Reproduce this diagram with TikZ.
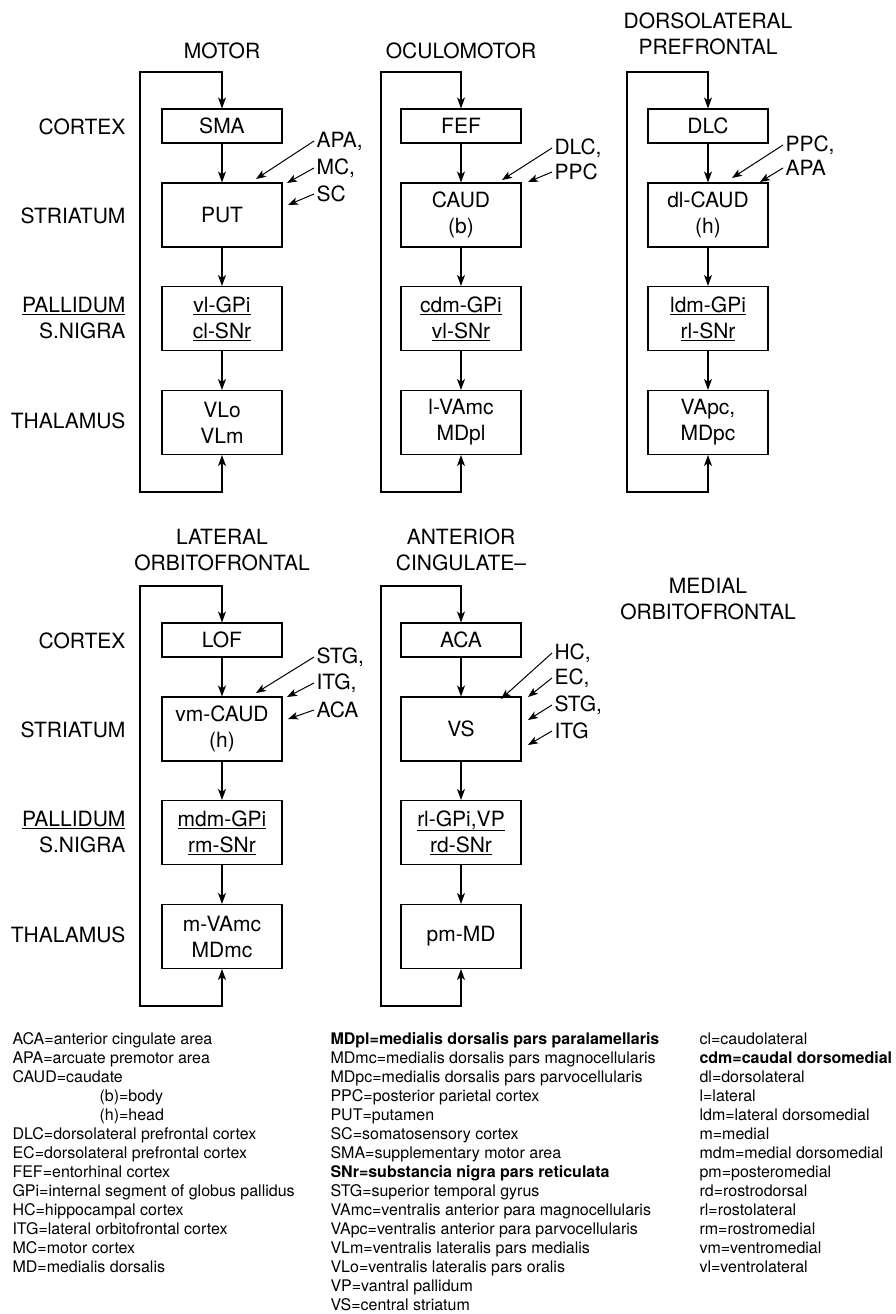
\documentclass[tikz,border=0pt]{standalone}
\usepackage{fontspec}
\setmainfont{TeX Gyre Heros}
\usetikzlibrary{arrows.meta}

\newcommand{\panelfont}{\fontsize{21}{26}\selectfont}
\newcommand{\keyfont}{\fontsize{16}{19}\selectfont}

\tikzset{
  >={Stealth[length=11pt, width=8pt, inset=3pt]},
  ctxbox/.style={shape=rectangle, draw=black, fill=white, minimum width=120pt,
    minimum height=34pt, inner sep=0pt, align=center, font=\panelfont},
  nucbox/.style={ctxbox, minimum height=64pt},
  rowlab/.style={anchor=east, align=right, inner sep=0pt, font=\panelfont},
  ttl/.style={align=center, inner sep=0pt, font=\panelfont},
  inlab/.style={anchor=west, inner sep=2pt, font=\panelfont},
  inarrow/.style={-{Stealth[length=10pt, width=7.5pt, inset=2.5pt]}, line width=1pt},
  keycol/.style={anchor=north west, align=left, inner sep=0pt, font=\keyfont},
}

\begin{document}
\begin{tikzpicture}[x=1pt, y=-1pt, line width=1.1pt]
\useasboundingbox (0,0) rectangle (895,1314);

              % row labels, top
\node[rowlab] at (126, 127) (lab-ctx1) {CORTEX};
\node[rowlab] at (126, 216) (lab-str1) {STRIATUM};
\node[rowlab] at (126, 318) (lab-pal1) {\underline{PALLIDUM}\\S.NIGRA};
\node[rowlab] at (126, 421) (lab-thl1) {THALAMUS};

              % Motor
\node[ttl] at (222, 51) (mot-ttl) {MOTOR};
\node[ctxbox] at (222, 126) (mot-ctx) {SMA};
\node[nucbox] at (222, 215) (mot-str) {PUT};
\node[nucbox] at (222, 318.5) (mot-pal) {\underline{vl-GPi}\\\underline{cl-SNr}};
\node[nucbox] at (222, 422.5) (mot-thl) {VLo\\VLm};
\coordinate (mot-tl) at (140, 72);
\coordinate (mot-bl) at (140, 492);

\draw[->]
  (mot-ctx) edge (mot-str)
  (mot-str) edge (mot-pal)
  (mot-pal) edge (mot-thl)
;
\draw[<->] (mot-ctx) -- (mot-ctx |- mot-tl) -- (mot-tl) -- (mot-bl)
  -- (mot-bl -| mot-thl) -- (mot-thl);

\node[inlab] at (314, 141) (mot-apa) {APA,};
\node[inlab] at (314, 168) (mot-mc) {MC,};
\node[inlab] at (314, 194) (mot-sc) {SC};
\coordinate (mot-t1) at (256, 179);
\coordinate (mot-t2) at (287, 183);
\coordinate (mot-t3) at (288, 205);
\draw[inarrow] (mot-apa.west) -- (mot-t1);
\draw[inarrow] (mot-mc.west)  -- (mot-t2);
\draw[inarrow] (mot-sc.west)  -- (mot-t3);

              % Oculomotor
\node[ttl] at (461, 51) (oc-ttl) {OCULOMOTOR};
\node[ctxbox] at (461, 126) (oc-ctx) {FEF};
\node[nucbox] at (461, 215) (oc-str) {CAUD\\(b)};
\node[nucbox] at (461, 318.5) (oc-pal) {\underline{cdm-GPi}\\\underline{vl-SNr}};
\node[nucbox] at (461, 422.5) (oc-thl) {l-VAmc\\MDpl};
\coordinate (oc-tl) at (381, 72);
\coordinate (oc-bl) at (381, 492);

\draw[->]
  (oc-ctx) edge (oc-str)
  (oc-str) edge (oc-pal)
  (oc-pal) edge (oc-thl)
;
\draw[<->] (oc-ctx) -- (oc-ctx |- oc-tl) -- (oc-tl) -- (oc-bl)
  -- (oc-bl -| oc-thl) -- (oc-thl);

\node[inlab] at (552, 148) (oc-dlc) {DLC,};
\node[inlab] at (552, 172) (oc-ppc) {PPC};
\coordinate (oc-t1) at (502, 180);
\coordinate (oc-t2) at (528, 182);
\draw[inarrow] (oc-dlc.west) -- (oc-t1);
\draw[inarrow] (oc-ppc.west) -- (oc-t2);

              % Dorsolateral prefrontal
\node[ttl] at (708, 34) (dl-ttl) {DORSOLATERAL\\PREFRONTAL};
\node[ctxbox] at (708, 126) (dl-ctx) {DLC};
\node[nucbox] at (708, 215) (dl-str) {dl-CAUD\\(h)};
\node[nucbox] at (708, 318.5) (dl-pal) {\underline{ldm-GPi}\\\underline{rl-SNr}};
\node[nucbox] at (708, 422.5) (dl-thl) {VApc,\\MDpc};
\coordinate (dl-tl) at (627, 72);
\coordinate (dl-bl) at (627, 492);

\draw[->]
  (dl-ctx) edge (dl-str)
  (dl-str) edge (dl-pal)
  (dl-pal) edge (dl-thl)
;
\draw[<->] (dl-ctx) -- (dl-ctx |- dl-tl) -- (dl-tl) -- (dl-bl)
  -- (dl-bl -| dl-thl) -- (dl-thl);

\node[inlab] at (783, 145) (dl-ppc) {PPC,};
\node[inlab] at (783, 168) (dl-apa) {APA};
\coordinate (dl-t1) at (732, 178);
\coordinate (dl-t2) at (760, 182);
\draw[inarrow] (dl-ppc.west) -- (dl-t1);
\draw[inarrow] (dl-apa.west) -- (dl-t2);

              % row labels, bottom
\node[rowlab] at (126, 641) (lab-ctx2) {CORTEX};
\node[rowlab] at (126, 730) (lab-str2) {STRIATUM};
\node[rowlab] at (126, 832) (lab-pal2) {\underline{PALLIDUM}\\S.NIGRA};
\node[rowlab] at (126, 935) (lab-thl2) {THALAMUS};

              % Lateral orbitofrontal
\node[ttl] at (222, 550) (lof-ttl) {LATERAL\\ORBITOFRONTAL};
\node[ctxbox] at (222, 640) (lof-ctx) {LOF};
\node[nucbox] at (222, 729) (lof-str) {vm-CAUD\\(h)};
\node[nucbox] at (222, 832.5) (lof-pal) {\underline{mdm-GPi}\\\underline{rm-SNr}};
\node[nucbox] at (222, 936.5) (lof-thl) {m-VAmc\\MDmc};
\coordinate (lof-tl) at (140, 586);
\coordinate (lof-bl) at (140, 1006);

\draw[->]
  (lof-ctx) edge (lof-str)
  (lof-str) edge (lof-pal)
  (lof-pal) edge (lof-thl)
;
\draw[<->] (lof-ctx) -- (lof-ctx |- lof-tl) -- (lof-tl) -- (lof-bl)
  -- (lof-bl -| lof-thl) -- (lof-thl);

\node[inlab] at (314, 657) (lof-stg) {STG,};
\node[inlab] at (314, 683) (lof-itg) {ITG,};
\node[inlab] at (314, 710) (lof-aca) {ACA};
\coordinate (lof-t1) at (256, 693);
\coordinate (lof-t2) at (287, 697);
\coordinate (lof-t3) at (288, 719);
\draw[inarrow] (lof-stg.west) -- (lof-t1);
\draw[inarrow] (lof-itg.west) -- (lof-t2);
\draw[inarrow] (lof-aca.west) -- (lof-t3);

              % Anterior cingulate
\node[ttl] at (461, 550) (acg-ttl) {ANTERIOR\\CINGULATE--};
\node[ctxbox] at (461, 640) (acg-ctx) {ACA};
\node[nucbox] at (461, 729) (acg-str) {VS};
\node[nucbox] at (461, 832.5) (acg-pal) {\underline{rl-GPi,VP}\\\underline{rd-SNr}};
\node[nucbox] at (461, 936.5) (acg-thl) {pm-MD};
\coordinate (acg-tl) at (381, 586);
\coordinate (acg-bl) at (381, 1006);

\draw[->]
  (acg-ctx) edge (acg-str)
  (acg-str) edge (acg-pal)
  (acg-pal) edge (acg-thl)
;
\draw[<->] (acg-ctx) -- (acg-ctx |- acg-tl) -- (acg-tl) -- (acg-bl)
  -- (acg-bl -| acg-thl) -- (acg-thl);

\node[inlab] at (552, 653) (acg-hc) {HC,};
\node[inlab] at (552, 678) (acg-ec) {EC,};
\node[inlab] at (552, 705) (acg-stg) {STG,};
\node[inlab] at (552, 731) (acg-itg) {ITG};
\coordinate (acg-t1) at (501, 699);
\coordinate (acg-t2) at (528, 697);
\coordinate (acg-t3) at (528, 720);
\coordinate (acg-t4) at (528, 745);
\draw[inarrow] (acg-hc.west)  -- (acg-t1);
\draw[inarrow] (acg-ec.west)  -- (acg-t2);
\draw[inarrow] (acg-stg.west) -- (acg-t3);
\draw[inarrow] (acg-itg.west) -- (acg-t4);

              % Medial orbitofrontal
\node[ttl] at (708, 599) (mof-ttl) {MEDIAL\\ORBITOFRONTAL};

              % key
\node[keycol] at (12, 1032) (key1) {ACA=anterior cingulate area\\
APA=arcuate premotor area\\
CAUD=caudate\\
\hspace*{87pt}(b)=body\\
\hspace*{87pt}(h)=head\\
DLC=dorsolateral prefrontal cortex\\
EC=dorsolateral prefrontal cortex\\
FEF=entorhinal cortex\\
GPi=internal segment of globus pallidus\\
HC=hippocampal cortex\\
ITG=lateral orbitofrontal cortex\\
MC=motor cortex\\
MD=medialis dorsalis};

\node[keycol] at (330, 1032) (key2) {\textbf{MDpl=medialis dorsalis pars paralamellaris}\\
MDmc=medialis dorsalis pars magnocellularis\\
MDpc=medialis dorsalis pars parvocellularis\\
PPC=posterior parietal cortex\\
PUT=putamen\\
SC=somatosensory cortex\\
SMA=supplementary motor area\\
\textbf{SNr=substancia nigra pars reticulata}\\
STG=superior temporal gyrus\\
VAmc=ventralis anterior para magnocellularis\\
VApc=ventralis anterior para parvocellularis\\
VLm=ventralis lateralis pars medialis\\
VLo=ventralis lateralis pars oralis\\
VP=vantral pallidum\\
VS=central striatum};

\node[keycol] at (699, 1032) (key3) {cl=caudolateral\\
\textbf{cdm=caudal dorsomedial}\\
dl=dorsolateral\\
l=lateral\\
ldm=lateral dorsomedial\\
m=medial\\
mdm=medial dorsomedial\\
pm=posteromedial\\
rd=rostrodorsal\\
rl=rostolateral\\
rm=rostromedial\\
vm=ventromedial\\
vl=ventrolateral};
\end{tikzpicture}
\end{document}
